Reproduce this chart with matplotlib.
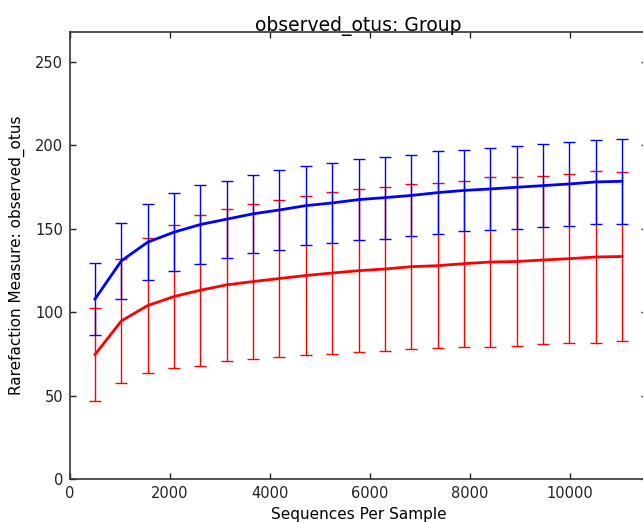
import matplotlib
matplotlib.use("Agg")
import matplotlib.pyplot as plt

seqs = [500, 1027, 1554, 2081, 2608, 3135, 3662, 4189, 4716, 5243, 5770,
        6297, 6824, 7351, 7878, 8405, 8932, 9459, 9986, 10513, 11040]

blue_mean = [107.9, 130.8, 142.0, 148.0, 152.6, 155.8, 159.0, 161.3, 163.9, 165.5, 167.5,
             168.7, 170.0, 171.7, 173.0, 173.9, 174.9, 175.9, 176.9, 178.1, 178.5]
blue_err = [21.4, 22.8, 22.8, 23.5, 23.6, 23.1, 23.5, 23.9, 23.7, 24.2, 24.3,
            24.6, 24.3, 24.8, 24.2, 24.6, 24.9, 24.9, 25.4, 25.2, 25.5]

red_mean = [74.6, 94.8, 104.0, 109.4, 113.2, 116.4, 118.4, 120.2, 122.0, 123.5, 124.9,
            125.9, 127.3, 127.9, 129.1, 130.1, 130.4, 131.3, 132.1, 133.1, 133.4]
red_err = [27.9, 37.1, 40.4, 42.6, 45.2, 45.6, 46.5, 47.1, 47.9, 48.6, 48.9,
           48.9, 49.3, 49.6, 49.8, 50.9, 50.5, 50.1, 50.5, 51.3, 50.9]

title = "observed_otus: Group"
xlabel = "Sequences Per Sample"
ylabel = "Rarefaction Measure: observed_otus"
xticks = [0, 2000, 4000, 6000, 8000, 10000]
yticks = [0, 50, 100, 150, 200, 250]

plt.rcParams['font.family'] = ['DejaVu Sans']

W, H = 643, 523
fig = plt.figure(figsize=(W / 100, H / 100), dpi=100)
left, right, top, bottom = 70, 647, 32, 479
ax = fig.add_axes([left / W, 1 - bottom / H, (right - left) / W, (bottom - top) / H])

ax.errorbar(seqs, red_mean, yerr=red_err, color="#ff0000", lw=2.0, elinewidth=1.0,
            capsize=4, capthick=1.0, zorder=2)
ax.errorbar(seqs, blue_mean, yerr=blue_err, color="#0000ff", lw=2.0, elinewidth=1.0,
            capsize=4, capthick=1.0, zorder=3)

ax.set_xlim(0, 11540)
ax.set_ylim(0, 268)
ax.set_xticks(xticks)
ax.set_yticks(yticks)
ax.tick_params(direction="in", top=True, right=True, length=4, width=1,
               labelsize=10.5, colors="#222222", pad=5)
for s in ax.spines.values():
    s.set_color("#333333")
    s.set_linewidth(1.2)
ax.set_title(title, fontsize=13.5, pad=1)
ax.set_xlabel(xlabel, fontsize=11, labelpad=4)
ax.set_ylabel(ylabel, fontsize=11, labelpad=7)

fig.savefig("out.png", dpi=100)
